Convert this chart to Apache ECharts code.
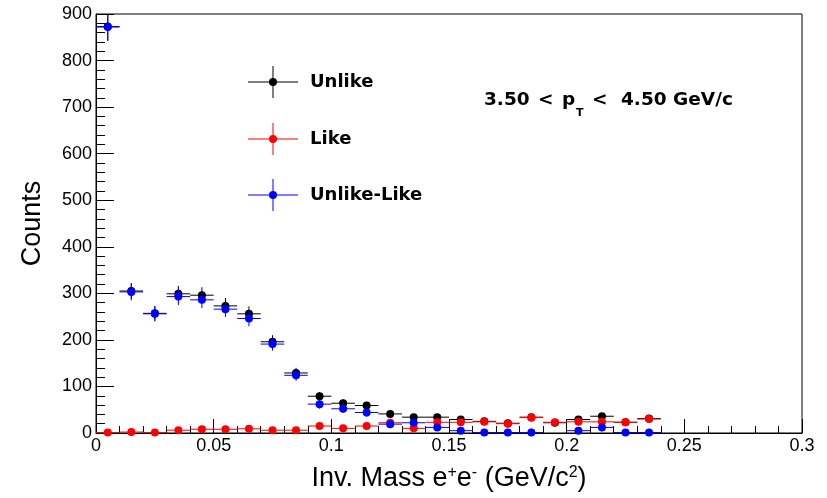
<!DOCTYPE html>
<html>
<head>
<meta charset="utf-8">
<script src="https://cdn.jsdelivr.net/npm/echarts@6/dist/echarts.min.js"></script>
<style>
  html, body { margin: 0; padding: 0; background: #fff; }
  #chart { width: 827px; height: 498px; }
</style>
</head>
<body>
<div id="chart"></div>
<script>
// bin centres (GeV/c^2), bin width 0.01
const binCenters = [0.005, 0.015, 0.025, 0.035, 0.045, 0.055, 0.065, 0.075, 0.085, 0.095, 0.105, 0.115,
  0.125, 0.135, 0.145, 0.155, 0.165, 0.175, 0.185, 0.195, 0.205, 0.215, 0.225, 0.235]
const binHalfWidth = 0.005

// Unlike-sign pairs
const unlikeCounts = [873, 305, 257, 299, 296, 273, 256, 196, 129, 79, 64, 59, 41, 34, 34, 29, 25, 21, 34, 22, 29, 36, 23, 31]
const unlikeErrors = [30, 17, 16, 17, 17, 17, 16, 14, 11, 9, 8, 8, 6, 6, 6, 5, 5, 5, 6, 5, 5, 6, 5, 6]
// Like-sign pairs
const likeCounts = [1, 2, 1, 6, 8, 8, 9, 6, 6, 15, 10, 15, 22, 10, 23, 23, 24, 20, 33, 23, 24, 24, 23, 30]
const likeErrors = [1, 1.4, 1, 2.5, 2.8, 2.8, 3, 2.5, 2.5, 3.9, 3.2, 3.9, 4.7, 3.2, 4.8, 4.8, 4.9, 4.5, 5.7, 4.8, 4.9, 4.9, 4.8, 5.5]
// Unlike - Like (bin 0.195 is below zero, not drawn)
const diffCounts = [872, 303, 256, 293, 286, 266, 246, 191, 124, 62, 52, 44, 19, 22, 12, 5, 1, 1, 1, null, 5, 12, 1, 1]
const diffErrors = [30, 18, 16, 18, 18, 17, 17, 14, 12, 10, 9, 9, 8, 7, 8, 7, 7, 6, 8, 7, 7, 8, 7, 8]

const seriesNames = ['Unlike', 'Like', 'Unlike-Like']
const seriesColors = ['#000000', '#ff0000', '#0000ff']
const ptLabel = ['3.50', '<', 'p', 'T', '<', '4.50 GeV/c']

const chart = echarts.init(document.getElementById('chart'))

// build [x, y, ex, ey] rows, skipping empty bins
const buildRows = (counts, errors) =>
  binCenters
    .map((x, i) => [x, counts[i], binHalfWidth, errors[i]])
    .filter((row) => row[1] !== null)

// error cross for each point
const errorBars = (color) => (params, api) => {
  const x = api.value(0)
  const y = api.value(1)
  const ex = api.value(2)
  const ey = api.value(3)
  const l = api.coord([x - ex, y])
  const r = api.coord([x + ex, y])
  const t = api.coord([x, y + ey])
  const b = api.coord([x, y - ey])
  return {
    type: 'group',
    children: [
      { type: 'line', shape: { x1: l[0], y1: l[1], x2: r[0], y2: r[1] }, style: { stroke: color, lineWidth: 1 } },
      { type: 'line', shape: { x1: t[0], y1: t[1], x2: b[0], y2: b[1] }, style: { stroke: color, lineWidth: 1 } }
    ]
  }
}

const allRows = [
  buildRows(unlikeCounts, unlikeErrors),
  buildRows(likeCounts, likeErrors),
  buildRows(diffCounts, diffErrors)
]

const series = []
allRows.forEach((rows, i) => {
  series.push({
    type: 'custom',
    name: seriesNames[i] + ' err',
    clip: true,
    silent: true,
    renderItem: errorBars(seriesColors[i]),
    encode: { x: 0, y: 1 },
    data: rows,
    z: 2 + i * 2
  })
  series.push({
    type: 'scatter',
    name: seriesNames[i],
    symbol: 'circle',
    symbolSize: 8,
    itemStyle: { color: seriesColors[i], opacity: 1 },
    data: rows.map((r) => [r[0], r[1]]),
    z: 3 + i * 2
  })
})

// legend drawn like the ROOT TLegend
const legendY = [82, 139, 195]
const legendGraphics = []
seriesNames.forEach((name, i) => {
  const y = legendY[i]
  legendGraphics.push(
    { type: 'line', shape: { x1: 248, y1: y, x2: 298, y2: y }, style: { stroke: seriesColors[i], lineWidth: 1 } },
    { type: 'line', shape: { x1: 273, y1: y - 16, x2: 273, y2: y + 16 }, style: { stroke: seriesColors[i], lineWidth: 1 } },
    { type: 'circle', shape: { cx: 273, cy: y, r: 4 }, style: { fill: seriesColors[i] } },
    {
      type: 'text',
      x: 310,
      y: y,
      style: { text: name, font: 'bold 18px "DejaVu Sans"', fill: '#000', align: 'left', verticalAlign: 'middle' }
    }
  )
})

const ptX = [484, 538, 562, 576, 592, 621]
const ptGraphics = ptLabel.map((s, i) => ({
  type: 'text',
  x: ptX[i],
  y: i === 3 ? 113.5 : 100.5,
  style: {
    text: s,
    font: i === 3 ? 'bold 11px "DejaVu Sans"' : 'bold 18.5px "DejaVu Sans"',
    fill: '#000',
    align: 'left',
    verticalAlign: 'middle'
  }
}))

const labelFont = { fontFamily: 'Liberation Sans', fontSize: 18, color: '#000' }

chart.setOption({
  animation: false,
  backgroundColor: '#fff',
  grid: {
    left: 96,
    right: 25,
    top: 14,
    bottom: 65,
    show: true,
    borderColor: '#000',
    borderWidth: 1,
    backgroundColor: 'transparent'
  },
  xAxis: {
    type: 'value',
    min: 0,
    max: 0.3,
    interval: 0.05,
    name: 'Inv. Mass e{sup|+}e{sup|-} (GeV/c{sup|2})',
    nameLocation: 'middle',
    nameGap: 32,
    nameTextStyle: {
      fontFamily: 'Liberation Sans',
      fontSize: 27,
      color: '#000',
      rich: { sup: { fontFamily: 'Liberation Sans', fontSize: 16, color: '#000', verticalAlign: 'top' } }
    },
    axisLine: { onZero: false, lineStyle: { color: '#000', width: 1 } },
    axisTick: { inside: true, length: 14, lineStyle: { color: '#000' } },
    minorTick: { show: true, splitNumber: 5, length: 7, lineStyle: { color: '#000' } },
    splitLine: { show: false },
    axisLabel: Object.assign({ margin: 4, formatter: (v) => String(+v.toFixed(2)) }, labelFont)
  },
  yAxis: {
    type: 'value',
    min: 0,
    max: 900,
    interval: 100,
    name: 'Counts',
    nameLocation: 'middle',
    nameGap: 50,
    nameRotate: 90,
    nameTextStyle: { fontFamily: 'Liberation Sans', fontSize: 27, color: '#000' },
    axisLine: { onZero: false, lineStyle: { color: '#000', width: 1 } },
    axisTick: { inside: true, length: 18, lineStyle: { color: '#000' } },
    minorTick: { show: true, splitNumber: 5, length: 9, lineStyle: { color: '#000' } },
    splitLine: { show: false },
    axisLabel: Object.assign({ margin: 4 }, labelFont)
  },
  graphic: [...legendGraphics, ...ptGraphics],
  series: series
})
</script>
</body>
</html>
